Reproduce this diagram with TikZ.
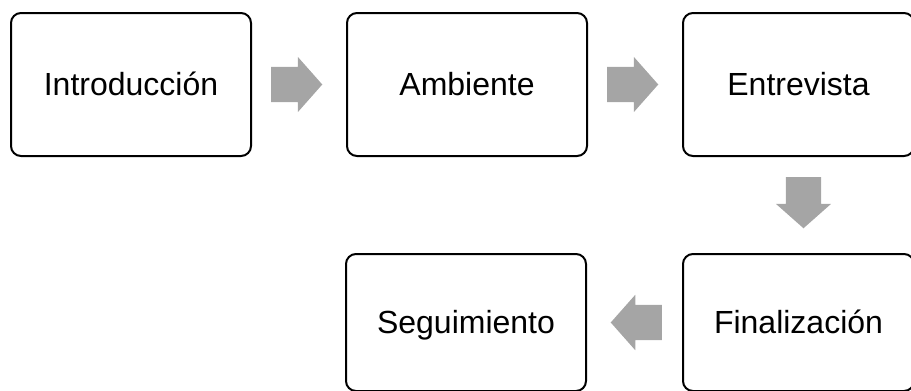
\documentclass[tikz,border=0pt]{standalone}
\usepackage{fontspec}
\setmainfont{Liberation Sans}
\usepackage{xcolor}
\definecolor{StepLine}{HTML}{000000}
\definecolor{ArrowGray}{HTML}{A5A5A5}
\usepackage{tikz}
\usetikzlibrary{positioning,shapes.arrows,calc}

\begin{document}
\begin{tikzpicture}[
        x=1pt, y=-1pt,
        node distance=94pt and 94pt,
        stepbox/.style={
            rectangle, rounded corners=10pt,
            draw=StepLine, line width=2pt, fill=white,
            minimum width=240pt, minimum height=143pt,
            inner sep=0pt, align=center,
            text height=26pt, text depth=4pt,
            font=\fontsize{32}{38}\selectfont
        },
        flecha/.style={
            single arrow, fill=ArrowGray, draw=none,
            inner sep=17.5pt, minimum height=51pt, anchor=tail,
            single arrow head extend=10pt, single arrow tip angle=97
        }
    ]
        \useasboundingbox (0,0) rectangle (911,391);
        % top row
        \node[stepbox] (intro) at (131,84.5) {Introducción};
        \node[stepbox, right=of intro] (ambiente) {Ambiente};
        \node[stepbox, minimum width=231pt, right=of ambiente] (entrevista) {Entrevista};
        % bottom row
        \node[stepbox, minimum width=231pt, minimum height=137pt, below=96pt of entrevista] (final) {Finalización};
        \node[stepbox, minimum height=137pt, left=95pt of final] (seguim) {Seguimiento};

        % block arrows between the steps
        \node[flecha] (f1) at ($(intro.east)+(19,0)$) {};
        \node[flecha] (f2) at ($(ambiente.east)+(19,0)$) {};
        \node[flecha, shape border rotate=270] (f3) at ($(entrevista.south)+(5,20)$) {};
        \node[flecha, shape border rotate=180] (f4) at ($(final.west)+(-20,0)$) {};
    \end{tikzpicture}
\end{document}
